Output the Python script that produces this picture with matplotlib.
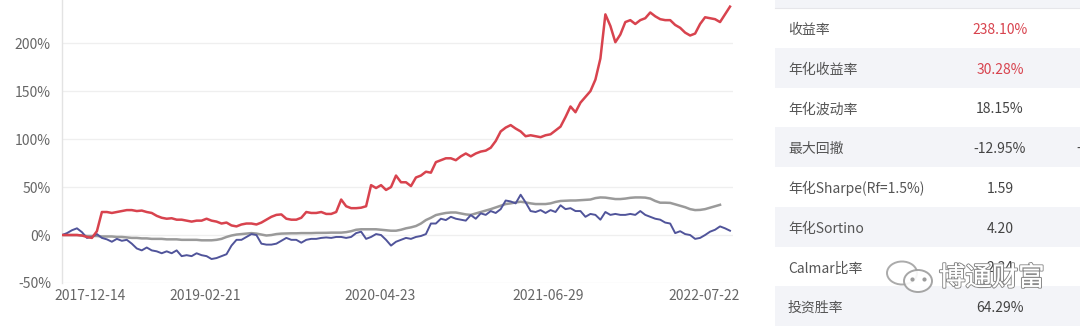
import numpy as np
import matplotlib.pyplot as plt
import matplotlib.patheffects as pe
from matplotlib.patches import Rectangle, Ellipse

plt.rcParams['font.family'] = ['Noto Sans CJK SC', 'DejaVu Sans']

# cumulative return, % (product / benchmark / index)
product = [
    0, 0, 0, 0, -0.5, -2, -3, 4, 24, 24,
    23, 24, 25, 26, 26, 25, 25.5, 24, 23, 20,
    18, 17, 17.5, 16, 16, 15, 14, 15, 15, 17,
    15, 14, 12, 13, 10, 9, 11, 12, 12, 11,
    13, 16, 19, 21, 21.5, 17, 16, 16, 18, 24,
    23, 23, 24, 22, 22, 24, 37, 30, 28, 28,
    28.5, 30, 52, 49, 52, 47, 50, 62, 55, 55,
    51, 60, 62, 66, 65, 76, 78, 80, 80, 78,
    82, 85, 82, 85, 87, 88, 91, 98, 108, 112,
    114.6, 111, 108, 103, 104, 103, 102, 104, 105, 109,
    113, 123, 134, 128, 138, 144, 150, 162, 184, 230,
    218, 201, 209, 222, 224, 220, 224, 226, 232, 228,
    225, 224, 224, 219, 216, 211, 208, 210, 220, 227,
    226, 225, 222, 230, 238.1,
]
benchmark = [
    0, 2, 5, 7, 3, -3, -2, 1, -3, -4.5,
    -7, -4, -6, -5, -9, -14, -16, -13, -16, -17,
    -19, -17, -19, -16, -22, -21, -22, -19, -21, -22,
    -25, -24, -22, -20, -11, -5, -5, -2, 1, 0,
    -9, -10, -10, -9, -6, -3, -5, -5, -8, -5,
    -4, -4, -3, -2.5, -3, -2, -2, -3, -2, 2,
    3.5, -4, -2, 1, 0, -5, -11, -7, -5, -3,
    -4, -2, -1, 1, 12, 12, 17, 15.6, 19, 17,
    16, 15, 20.8, 17, 22.6, 21, 25, 23, 27, 36,
    35, 33, 42, 34, 25, 24, 26, 23, 26, 24,
    31, 27, 28, 25, 25, 19, 22, 21, 16, 24,
    21, 22, 21, 21, 22, 21, 25, 21, 19, 17,
    16, 13, 12, 2, 4, 1, 0, -4, -3, 0,
    3.5, 5.5, 9, 7, 4.5,
]
index_line = [
    0, 0, 0, 0, -0.5, -1, -1, -1, -1.5, -1.5,
    -1.5, -2, -2, -2.5, -3, -3, -3.5, -3.5, -4, -4,
    -4, -4.5, -4.5, -4.5, -5, -5, -5, -5, -5.5, -5.5,
    -5.5, -5, -4, -2, -0.5, 0.5, 1, 1.5, 2, 1.5,
    0.5, -0.5, 0, 1, 1.5, 1.7, 1.8, 1.8, 2, 2,
    2, 2.2, 2.2, 2.3, 2.5, 2.5, 2.5, 3, 4, 5.5,
    6, 6, 6, 6, 5.5, 5, 4.5, 4.5, 5.5, 7,
    8, 9.4, 12, 15.6, 18, 20.8, 22, 23, 23.5, 23.5,
    22.5, 21.5, 21, 22.5, 24, 25.5, 27, 28.8, 30.5, 32.3,
    33, 34, 34.7, 34, 33, 32.3, 32.3, 32.3, 33, 34.5,
    35.5, 35.8, 36, 36, 36.3, 36.5, 37, 38.5, 39.2, 39,
    38.3, 37.5, 37.5, 38, 38.8, 39.2, 39.2, 39, 38, 35.5,
    33.7, 33.7, 33.5, 32, 30.5, 29, 27, 26, 26.2, 27,
    28.5, 30, 31.5,
]

x_labels = ['2017-12-14', '2019-02-21', '2020-04-23', '2021-06-29', '2022-07-22']
x_label_pos = [5.6, 28.7, 63.8, 97.5, 128.8]
y_ticks = [-50, 0, 50, 100, 150, 200]

metric_names = ['收益率', '年化收益率', '年化波动率', '最大回撤',
                '年化Sharpe(Rf=1.5%)', '年化Sortino', 'Calmar比率', '投资胜率']
metric_values = ['238.10%', '30.28%', '18.15%', '-12.95%', '1.59', '4.20', '2.34', '64.29%']
highlight_rows = [0, 1]

RED = '#d8434e'
NAVY = '#50549a'
GRAY = '#9a9a9a'

fig = plt.figure(figsize=(10.8, 3.26), dpi=100)
W, H = 1080, 326

ax = fig.add_axes([62 / W, 1 - 283 / H, (733 - 62) / W, 283 / H])
x = np.arange(len(product))
ax.plot(np.arange(len(index_line)), index_line, color=GRAY, lw=1.8, zorder=2)
ax.plot(x, benchmark, color=NAVY, lw=1.4, zorder=3)
ax.plot(x, product, color=RED, lw=1.8, zorder=4)

ax.set_xlim(0, len(product) - 1 + 0.6)
ax.set_ylim(-50, 245)
ax.set_yticks(y_ticks)
ax.set_yticklabels([f'{v}%' for v in y_ticks])
ax.set_xticks(x_label_pos)
ax.set_xticklabels(x_labels)
ax.tick_params(axis='both', length=0, labelsize=10, colors='#666666')
ax.tick_params(axis='y', pad=8)
ax.tick_params(axis='x', pad=4)
for v in y_ticks:
    ax.axhline(v, color='#efefef', lw=0.9, zorder=0)
for side in ['top', 'right', 'bottom']:
    ax.spines[side].set_visible(False)
ax.spines['left'].set_color('#e3e3e3')
ax.spines['left'].set_linewidth(1.0)

# metrics table on the right
tab = fig.add_axes([0, 0, 1, 1])
tab.set_xlim(0, W)
tab.set_ylim(H, 0)
tab.axis('off')
tab.patch.set_alpha(0)

row_h = 39.75
top0 = 8
tab.add_patch(Rectangle((775, 0), W - 775, top0, color='#f3f4f8', lw=0))
tab.plot([775, W], [top0, top0], color='#e6e6ea', lw=0.8)
for k, (name, val) in enumerate(zip(metric_names, metric_values)):
    y0 = top0 + k * row_h
    if k % 2 == 1:
        tab.add_patch(Rectangle((775, y0), W - 775, row_h, color='#f3f4f8', lw=0))
    yc = y0 + row_h / 2 + 2
    tab.text(788, yc, name, fontsize=10, color='#555555', ha='left', va='center')
    tab.text(1000, yc, val, fontsize=10, ha='center', va='center', zorder=2,
             color=RED if k in highlight_rows else '#444444')
# clipped third column
tab.text(1076, top0 + 3 * row_h + row_h / 2 + 2, '-', fontsize=10, color='#444444',
         ha='left', va='center')

# watermark: outlined chat bubbles and name
wm = '#9c9c9c'
tab.add_patch(Ellipse((902, 273), 30, 23, fc='white', ec=wm, lw=1.4, alpha=0.85, zorder=5))
tab.add_patch(Ellipse((918, 281), 28, 22, fc='white', ec=wm, lw=1.4, alpha=0.9, zorder=6))
tab.scatter([912, 924], [279, 279], s=4, color=wm, zorder=7)
tab.text(939, 278, '博通财富', fontsize=19, color='white', ha='left', va='center', zorder=8,
         path_effects=[pe.withStroke(linewidth=1.6, foreground='#8c8c8c'), pe.Normal()])

fig.savefig('out.png', dpi=100)
